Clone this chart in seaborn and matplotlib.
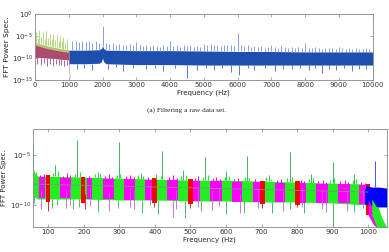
"""FFT power spectra of a raw data set and its filtered pieces."""

import matplotlib

matplotlib.use("Agg")
import matplotlib.pyplot as plt
import numpy as np
import pandas as pd
import seaborn as sns

sns.set_style("ticks")
plt.rcParams.update({
    "font.family": ["DejaVu Sans"],
    "font.size": 5,
    "axes.edgecolor": "#888888",
    "axes.linewidth": 0.6,
    "xtick.direction": "in",
    "ytick.direction": "in",
    "xtick.major.size": 2,
    "ytick.major.size": 2,
    "xtick.major.width": 0.5,
    "ytick.major.width": 0.5,
    "xtick.color": "#888888",
    "ytick.color": "#888888",
    "xtick.labelcolor": "#333333",
    "ytick.labelcolor": "#333333",
})

# ---- top panel: raw data set (values are log10 of power) ----
raw_band_freq = [1000, 1500, 1900, 1970, 2000, 2030, 2100, 3000, 4000, 5000, 6000, 7000, 8000, 9000, 10000]
raw_band_hi = [-8.2, -8.2, -8.1, -7.8, -7.2, -7.8, -8.2, -8.3, -8.3, -8.4, -8.5, -8.5, -8.6, -8.6, -8.6]
raw_band_lo = [-11.3, -11.3, -11.2, -10.8, -10.0, -10.8, -11.3, -11.5, -11.5, -11.6, -11.6, -11.6, -11.6, -11.6, -11.6]

raw_spike_freq = [
    1100, 1200, 1300, 1400, 1500, 1600, 1700, 1800, 1900, 2000,
    2100, 2200, 2300, 2400, 2500, 2600, 2700, 2800, 2900, 3000,
    3100, 3200, 3300, 3400, 3500, 3600, 3700, 3800, 3900, 4000,
    4100, 4200, 4300, 4400, 4500, 4600, 4700, 4800, 4900, 5000,
    5100, 5200, 5300, 5400, 5500, 5600, 5700, 5800, 5900, 6000,
    6100, 6200, 6300, 6400, 6500, 6600, 6700, 6800, 6900, 7000,
    7100, 7200, 7300, 7400, 7500, 7600, 7700, 7800, 7900, 8000,
    8100, 8200, 8300, 8400, 8500, 8600, 8700, 8800, 8900, 9000,
    9100, 9200, 9300, 9400, 9500, 9600, 9700, 9800, 9900, 10000,
]
raw_spike_top = [
    -6.2, -6.0, -6.4, -6.1, -6.3, -6.0, -6.5, -6.2, -6.6, -2.7,
    -6.6, -6.8, -6.5, -7.0, -6.7, -6.9, -7.1, -6.8, -7.0, -6.3,
    -7.0, -7.2, -6.9, -7.3, -7.0, -7.2, -7.4, -7.1, -7.3, -6.0,
    -7.2, -7.0, -7.4, -7.1, -7.3, -7.0, -7.4, -7.2, -7.5, -6.8,
    -7.0, -6.8, -7.1, -6.9, -7.2, -6.9, -7.1, -7.0, -7.3, -4.3,
    -7.0, -7.3, -7.1, -7.4, -7.2, -7.5, -7.3, -7.6, -7.4, -7.0,
    -7.4, -7.6, -7.3, -7.5, -7.7, -7.4, -7.6, -7.5, -7.7, -6.5,
    -7.6, -7.8, -7.5, -7.7, -7.9, -7.6, -7.8, -7.7, -7.9, -7.4,
    -7.8, -7.9, -7.7, -8.0, -7.8, -7.9, -8.0, -7.8, -7.9, -7.4,
]
raw_dip_freq = [1250, 1450, 1700, 2150, 2400, 2600, 2900, 3300, 3550, 3800, 4150, 4500, 4800,
                5050, 5300, 5550, 5800, 6050, 6300, 6500, 6800, 7100, 7350, 7600, 7850, 8100,
                8300, 8500, 8700, 8900, 9150, 9400, 9600, 9800]
raw_dip_low = [-12.5, -12.2, -12.8, -12.4, -12.1, -13.0, -12.3, -12.6, -12.2, -12.9, -12.3, -14.6, -12.8,
               -12.2, -12.7, -12.3, -13.2, -13.8, -12.3, -12.7, -12.2, -12.9, -12.4, -12.6, -12.2, -12.8,
               -12.3, -13.4, -12.4, -12.7, -12.3, -13.0, -12.4, -12.6]

low_band_freq = [0, 200, 400, 600, 800, 990, 1000, 1020, 1040]
low_band_hi = [-6.4, -6.9, -7.3, -7.6, -7.9, -8.1, -9.5, -12.5, -15.0]
low_band_lo = [-9.8, -9.9, -10.0, -10.1, -10.3, -10.4, -11.5, -14.0, -15.0]
low_spike_freq = [30, 90, 130, 180, 230, 290, 330, 380, 430, 490, 540, 590, 640, 700, 740, 800, 840, 900, 940]
low_spike_top = [-4.0, -5.4, -3.6, -5.2, -4.1, -5.6, -3.9, -5.5, -4.4, -5.7, -4.6, -5.9, -4.8, -6.0, -4.9, -6.2, -5.2, -6.3, -5.6]
low_dip_freq = [60, 170, 260, 350, 450, 520, 610, 700, 780, 870, 950]
low_dip_low = [-11.3, -11.6, -11.2, -11.8, -11.4, -11.9, -11.3, -11.7, -11.5, -11.8, -11.6]

# ---- bottom panel: filtered pieces ----
green_freq = [57, 62, 70, 100, 200, 300, 400, 500, 600, 700, 800, 900, 1000, 1010, 1020, 1030, 1040, 1052]
green_hi = [-6.2, -6.8, -7.1, -7.1, -7.2, -7.3, -7.4, -7.5, -7.5, -7.6, -7.7, -7.8, -7.9, -8.6, -9.4, -10.4, -11.5, -12.3]
green_lo = [-8.8, -9.2, -9.4, -9.4, -9.4, -9.5, -9.5, -9.6, -9.6, -9.7, -9.7, -9.8, -10.0, -10.8, -11.8, -12.3, -12.4, -12.4]

magenta_start = [73, 134, 209, 254, 312, 373, 433, 506, 555, 616, 676, 737, 807, 854, 915, 973]
magenta_end = [92, 165, 223, 284, 345, 392, 466, 527, 588, 644, 695, 765, 826, 887, 948, 1000]
magenta_hi = [-7.2, -7.3, -7.3, -7.4, -7.4, -7.5, -7.5, -7.6, -7.6, -7.7, -7.7, -7.8, -7.8, -7.9, -7.9, -8.0]
magenta_lo = [-9.3, -9.3, -9.4, -9.4, -9.5, -9.5, -9.5, -9.6, -9.6, -9.7, -9.7, -9.7, -9.8, -9.8, -9.8, -9.9]

red_start = [94, 193, 391, 494, 695, 793, 994]
red_end = [106, 204, 405, 506, 709, 807, 1004]
red_hi = [-7.0, -7.2, -7.3, -7.4, -7.6, -7.6, -7.9]
red_lo = [-9.7, -9.8, -9.8, -9.9, -9.9, -10.0, -11.0]

blue_freq = [990, 1010, 1030, 1052]
blue_hi = [-8.0, -8.2, -8.2, -8.3]
blue_lo = [-9.9, -10.1, -10.2, -10.2]

trend_freq = [57, 1000]
trend_val = [-7.9, -8.7]

green_spike_freq = [58, 120, 180, 240, 300, 360, 420, 480, 540, 600, 660, 720, 780, 840, 900, 960]
green_spike_top = [-3.9, -6.0, -3.5, -6.7, -3.7, -6.8, -4.6, -6.5, -5.2, -6.6, -5.1, -7.0, -4.7, -6.9, -5.7, -6.9]
blue_spike_freq = [1020]
blue_spike_top = [-5.6]

# short fringe lines that give the band its ragged edge
green_fringe_freq = [66, 112, 128, 176, 188, 232, 246, 292, 302, 352, 366, 402, 418, 474, 488, 536,
                     548, 596, 608, 652, 666, 712, 726, 772, 786, 834, 846, 892, 904, 956, 966]
green_fringe_top = [-6.7, -6.8, -6.6, -6.9, -6.7, -6.9, -6.8, -7.0, -6.9, -7.0, -7.1, -6.9, -7.1, -7.1, -7.0, -7.2,
                    -7.0, -7.2, -7.1, -7.2, -7.3, -7.2, -7.4, -7.3, -7.2, -7.4, -7.3, -7.5, -7.3, -7.5, -7.4]
magenta_fringe_freq = [78, 88, 140, 152, 160, 214, 260, 272, 280, 318, 330, 340, 380, 440, 452, 462,
                       512, 520, 562, 572, 582, 622, 634, 682, 744, 756, 812, 820, 860, 872, 882, 922, 934, 944, 980, 992]
magenta_fringe_top = [-7.0, -6.9, -7.1, -6.8, -7.0, -7.1, -7.1, -6.9, -7.2, -7.1, -7.0, -7.2, -7.2, -7.2, -7.0, -7.3,
                      -7.3, -7.1, -7.3, -7.2, -7.4, -7.4, -7.3, -7.4, -7.5, -7.4, -7.5, -7.6, -7.6, -7.5, -7.7,
                      -7.6, -7.5, -7.7, -7.7, -7.8]

green_dip_freq = [60, 110, 124, 170, 186, 240, 296, 365, 410, 485, 530, 600, 650, 730, 780, 820, 900, 960]
green_dip_low = [-9.8, -10.3, -10.0, -10.4, -10.2, -10.7, -10.3, -10.8, -10.9, -11.3, -10.6, -10.9, -10.8, -10.8, -10.4, -10.8, -12.2, -10.7]
magenta_dip_freq = [80, 150, 160, 218, 270, 330, 340, 385, 450, 460, 520, 560, 580, 640, 690, 760, 815, 870, 880, 940, 985]
magenta_dip_low = [-10.4, -10.3, -10.0, -10.1, -10.6, -10.2, -10.4, -10.0, -11.2, -10.4, -10.2, -10.5, -10.1, -10.8, -10.3, -10.6, -10.2, -10.4, -10.7, -10.6, -10.3]
red_dip_freq = [98, 202, 398, 498, 700, 800]
red_dip_low = [-10.6, -10.4, -10.2, -10.3, -10.3, -10.2]


def p(vals):
    return np.power(10.0, np.asarray(vals, dtype=float))


def band(ax, freq, hi, lo, color, alpha=1.0):
    ax.fill_between(freq, p(lo), p(hi), color=color, lw=0, alpha=alpha)


def spikes(ax, freq, top, base, color, lw=0.5, alpha=1.0):
    ax.vlines(freq, p(base), p(top), color=color, lw=lw, alpha=alpha)


fig = plt.figure(figsize=(3.89, 2.52), dpi=100)
ax1 = fig.add_axes([0.090, 0.683, 0.868, 0.260])
ax2 = fig.add_axes([0.084, 0.100, 0.910, 0.390])

# top panel
band(ax1, raw_band_freq, raw_band_hi, raw_band_lo, "#1f4fae")
mid = np.interp(raw_spike_freq, raw_band_freq, raw_band_hi)
spikes(ax1, raw_spike_freq, raw_spike_top, mid, "#7393d8", lw=0.6)
mid = np.interp(raw_dip_freq, raw_band_freq, raw_band_lo)
spikes(ax1, raw_dip_freq, mid, raw_dip_low, "#3c64c4", lw=0.6)
band(ax1, low_band_freq, low_band_hi, low_band_lo, "#a9b858", alpha=0.85)
band(ax1, low_band_freq, [v - 0.6 for v in low_band_hi], low_band_lo, "#ad4470", alpha=0.95)
mid = np.interp(low_spike_freq, low_band_freq, low_band_hi)
spikes(ax1, low_spike_freq, low_spike_top, mid, "#a9d46e", lw=0.6)
mid = np.interp(low_dip_freq, low_band_freq, low_band_lo)
spikes(ax1, low_dip_freq, mid, low_dip_low, "#a04aa6", lw=0.6)

ax1.set_yscale("log")
ax1.set_xlim(0, 10000)
ax1.set_ylim(1e-15, 1e0)
ax1.set_xticks(range(0, 10001, 1000))
ax1.set_yticks([1e-15, 1e-10, 1e-5, 1e0])
ax1.minorticks_off()
ax1.set_xlabel("Frequency (Hz)", fontsize=5, labelpad=1)
ax1.set_ylabel("FFT Power Spec.", fontsize=5.4, labelpad=1)

# bottom panel
band(ax2, green_freq, green_hi, green_lo, "#22ee22")
mid = np.interp(green_dip_freq, green_freq, green_lo)
spikes(ax2, green_dip_freq, mid, green_dip_low, "#33b055", lw=0.6)
mid = np.interp(green_fringe_freq, green_freq, green_hi)
spikes(ax2, green_fringe_freq, green_fringe_top, mid, "#22ee22", lw=0.8)
for s, e, h, l in zip(magenta_start, magenta_end, magenta_hi, magenta_lo):
    band(ax2, [s, e], [h, h], [l, l], "#ff00ff")
spikes(ax2, magenta_fringe_freq, magenta_fringe_top, [v - 0.6 for v in magenta_fringe_top], "#ff00ff", lw=0.8)
spikes(ax2, magenta_dip_freq, [v + 1.9 for v in magenta_dip_low], magenta_dip_low, "#c060e0", lw=0.6)
for s, e, h, l in zip(red_start, red_end, red_hi, red_lo):
    band(ax2, [s, e], [h, h], [l, l], "#ff0000")
spikes(ax2, red_dip_freq, [v + 1.5 for v in red_dip_low], red_dip_low, "#cc1010", lw=0.6)
band(ax2, blue_freq, blue_hi, blue_lo, "#0000ff")
band(ax2, [1000, 1015, 1030, 1045], [-9.5, -10.5, -11.5, -12.3], [-11.0, -12.0, -12.4, -12.4], "#ff00ff")
band(ax2, [1010, 1025, 1040, 1052], [-9.4, -10.3, -11.4, -12.3], [-11.0, -12.3, -12.4, -12.4], "#22ee22")

mid = np.interp(green_spike_freq, green_freq, green_hi)
spikes(ax2, green_spike_freq, green_spike_top, mid, "#3cb56a", lw=0.7)
spikes(ax2, blue_spike_freq, blue_spike_top, [-8.2], "#5050f0", lw=0.7)

trend = pd.DataFrame({"freq": trend_freq, "power": p(trend_val)})
sns.lineplot(data=trend, x="freq", y="power", ax=ax2, color="#779977", lw=0.6)

ax2.set_yscale("log")
ax2.set_xlim(56, 1052)
ax2.set_ylim(10 ** -12.2, 10 ** -2.3)
ax2.set_xticks(range(100, 1001, 100))
ax2.set_yticks([1e-10, 1e-5])
ax2.minorticks_off()
ax2.set_xlabel("Frequency (Hz)", fontsize=5, labelpad=1)
ax2.set_ylabel("FFT Power Spec.", fontsize=5, labelpad=2)

for ax in (ax1, ax2):
    ax.tick_params(top=True, right=True, labelsize=5, pad=1.5)
    for sp in ax.spines.values():
        sp.set_visible(True)

fig.text(0.48, 0.563, "(a) Filtering a raw data set.", ha="center", va="center",
         fontsize=5.2, family="Liberation Serif")

fig.savefig("out.png", dpi=100)
